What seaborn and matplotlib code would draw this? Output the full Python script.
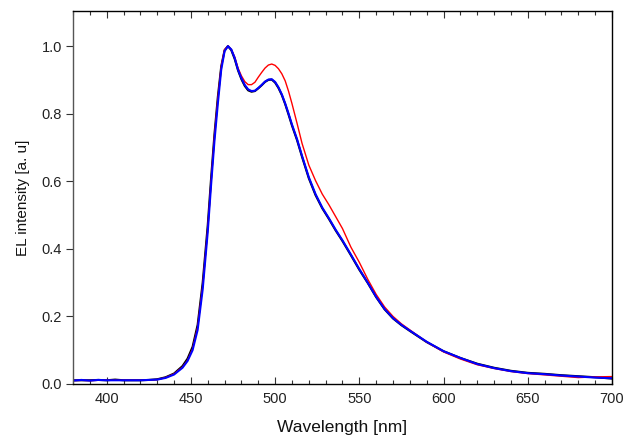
import matplotlib
matplotlib.use("Agg")
import matplotlib.pyplot as plt
import seaborn as sns
import pandas as pd
from matplotlib.ticker import MultipleLocator

wavelength = [380, 385, 390, 395, 400, 405, 410, 415, 420, 425, 430, 435, 440, 445, 448,
              451, 454, 457, 460, 462, 464, 466, 468, 470, 472, 474, 476, 478, 480, 482,
              484, 486, 488, 490, 492, 494, 496, 498, 500, 502, 504, 506, 508, 510, 513,
              516, 520, 524, 528, 532, 536, 540, 545, 550, 555, 560, 565, 570, 575, 580,
              590, 600, 610, 620, 630, 640, 650, 660, 670, 680, 690, 700]

blue = [0.010, 0.012, 0.010, 0.012, 0.011, 0.011, 0.011, 0.011, 0.011, 0.012, 0.013, 0.018,
        0.028, 0.048, 0.068, 0.100, 0.160, 0.280, 0.450, 0.590, 0.720, 0.830, 0.930, 0.985,
        1.000, 0.990, 0.965, 0.930, 0.905, 0.885, 0.872, 0.867, 0.868, 0.876, 0.885, 0.895,
        0.901, 0.902, 0.894, 0.878, 0.857, 0.830, 0.800, 0.768, 0.725, 0.675, 0.612, 0.562,
        0.522, 0.490, 0.456, 0.425, 0.383, 0.340, 0.300, 0.258, 0.222, 0.195, 0.175, 0.158,
        0.125, 0.097, 0.077, 0.059, 0.047, 0.038, 0.032, 0.029, 0.025, 0.022, 0.019, 0.017]

red = [0.010, 0.011, 0.010, 0.011, 0.011, 0.011, 0.011, 0.011, 0.011, 0.012, 0.013, 0.019,
       0.030, 0.050, 0.070, 0.104, 0.168, 0.290, 0.460, 0.600, 0.735, 0.845, 0.940, 0.990,
       1.000, 0.990, 0.968, 0.935, 0.912, 0.895, 0.886, 0.886, 0.893, 0.908, 0.922, 0.935,
       0.944, 0.947, 0.943, 0.933, 0.918, 0.897, 0.866, 0.830, 0.772, 0.712, 0.648, 0.602,
       0.562, 0.530, 0.495, 0.460, 0.405, 0.360, 0.310, 0.265, 0.228, 0.200, 0.178, 0.160,
       0.124, 0.095, 0.074, 0.057, 0.046, 0.037, 0.031, 0.027, 0.023, 0.019, 0.021, 0.022]

black = [0.011, 0.011, 0.011, 0.012, 0.011, 0.013, 0.011, 0.011, 0.011, 0.012, 0.014, 0.020,
         0.031, 0.053, 0.075, 0.110, 0.175, 0.300, 0.470, 0.610, 0.740, 0.850, 0.940, 0.988,
         1.000, 0.988, 0.962, 0.928, 0.902, 0.882, 0.869, 0.865, 0.867, 0.875, 0.884, 0.894,
         0.900, 0.901, 0.892, 0.876, 0.855, 0.828, 0.797, 0.765, 0.722, 0.672, 0.609, 0.559,
         0.520, 0.488, 0.454, 0.423, 0.381, 0.338, 0.299, 0.257, 0.221, 0.194, 0.174, 0.157,
         0.124, 0.097, 0.077, 0.060, 0.048, 0.039, 0.033, 0.030, 0.026, 0.023, 0.020, 0.016]

x_ticks = [400, 450, 500, 550, 600, 650, 700]
y_ticks = [0.0, 0.2, 0.4, 0.6, 0.8, 1.0]

df = pd.DataFrame({"wl": wavelength, "blue": blue, "red": red, "black": black})

sns.set_theme(style="ticks")
plt.rcParams["font.family"] = ["Liberation Sans", "DejaVu Sans"]

fig = plt.figure(figsize=(6.26, 4.43), dpi=100)
ax = fig.add_axes([0.1166, 0.1332, 0.861, 0.842])

sns.lineplot(data=df, x="wl", y="black", color="black", lw=1.5, ax=ax)
sns.lineplot(data=df, x="wl", y="red", color="#ff0000", lw=1.0, ax=ax)
sns.lineplot(data=df, x="wl", y="blue", color="#0000ff", lw=1.5, ax=ax)

ax.set_xlim(380, 700)
ax.set_ylim(0, 1.104)
ax.set_xticks(x_ticks)
ax.set_yticks(y_ticks)
ax.xaxis.set_minor_locator(MultipleLocator(10))
ax.set_yticklabels([f"{v:.1f}" for v in y_ticks])

for s in ax.spines.values():
    s.set_visible(True)
    s.set_color("black")
    s.set_linewidth(1.0)
ax.spines["left"].set_color("#555555")

ax.tick_params(axis="x", which="major", direction="in", length=5, width=0.8,
               top=True, bottom=True, labelsize=10.5, pad=6, color="#333333",
               labelcolor="#222222")
ax.tick_params(axis="x", which="minor", direction="in", length=3, width=0.8,
               top=True, bottom=True, color="#333333")
ax.tick_params(axis="y", which="major", direction="out", length=5, width=0.8,
               left=True, right=False, labelsize=10.5, pad=3, color="#333333",
               labelcolor="#222222")

ax.set_xlabel("Wavelength [nm]", fontsize=12.5, labelpad=10, color="#111111")
ax.set_ylabel("EL intensity [a. u]", fontsize=11, labelpad=8, color="#111111")

fig.savefig("out.png", dpi=100)
